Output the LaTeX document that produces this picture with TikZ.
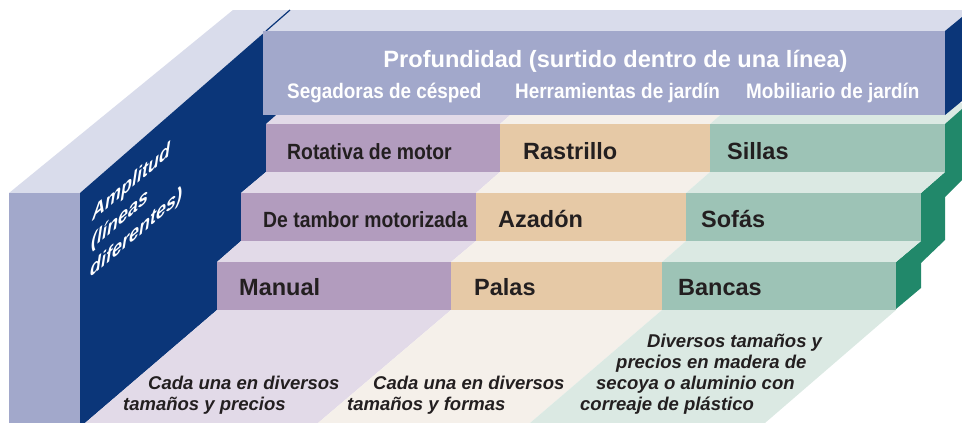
\documentclass[tikz,border=0pt]{standalone}
\usepackage{fontspec}
\setmainfont{Liberation Sans}
\newfontfamily\condA{Liberation Sans}[FakeStretch=0.9]
\newfontfamily\condB{Liberation Sans}[FakeStretch=0.88]
\definecolor{topface}{HTML}{D9DCEB}
\definecolor{frontblue}{HTML}{A2A8CB}
\definecolor{navy}{HTML}{0B3679}
\definecolor{purp}{HTML}{B29CBE}
\definecolor{lpurp}{HTML}{E2DAE8}
\definecolor{peach}{HTML}{E6C9A6}
\definecolor{lpeach}{HTML}{F5F0EA}
\definecolor{grn}{HTML}{9DC3B6}
\definecolor{lgrn}{HTML}{DBE9E3}
\definecolor{dgrn}{HTML}{21886A}
\definecolor{txt}{HTML}{231F20}
\tikzset{
  lbl/.style={anchor=base west, inner sep=0pt, text=txt, font=\bfseries\fontsize{23.5}{23.5}\selectfont},
  lblc/.style={anchor=base west, inner sep=0pt, text=txt, font=\condB\bfseries\fontsize{22}{22}\selectfont},
  sub/.style={anchor=base west, inner sep=0pt, text=white, font=\condA\bfseries\fontsize{21}{21}\selectfont},
  note/.style={anchor=base west, inner sep=0pt, text=txt, font=\bfseries\itshape\fontsize{18.5}{18.5}\selectfont},
  amp/.style={anchor=base west, inner sep=0pt, text=white, transform shape, font=\bfseries\itshape\fontsize{20}{20}\selectfont}
}
\begin{document}
\begin{tikzpicture}[x=1pt,y=-1pt]
\useasboundingbox (0,0) rectangle (962,423);
\clip (0,0) rectangle (962,423);
% top face
\fill[topface] (9,193) -- (233,10) -- (970,10) -- (970,31) -- (266,31) -- (80,193) -- cycle;
\draw[navy, line width=1.2pt] (266,31) -- (290,10);
% navy left side wall
\fill[navy] (80,193) -- (266,31) -- (280,31) -- (280,124) -- (266,124) -- (266,172) -- (241,193) -- (241,241) -- (217,262) -- (217,310) -- (85,423) -- (80,423) -- cycle;
% left pillar front
\fill[frontblue] (9,193) rectangle (80,430);
% row 1 treads
\fill[lpurp] (266,124) -- (500,124) -- (524,103) -- (290,103) -- cycle;
\fill[lpeach] (500,124) -- (710,124) -- (734,103) -- (524,103) -- cycle;
\fill[lgrn] (710,124) -- (945,124) -- (969,103) -- (734,103) -- cycle;
% header
\fill[frontblue] (263,31) rectangle (945,115);
\fill[navy] (945,31) -- (962,17) -- (962,101) -- (945,115) -- cycle;
% green right side
\fill[dgrn] (945,124) -- (962,109) -- (962,180) -- (945,197) -- (945,240) -- (921,263) -- (921,288) -- (896,309) -- (896,262) -- (921,241) -- (921,193) -- (945,172) -- cycle;
% row 1 fronts
\fill[purp] (266,124) rectangle (500,172);
\fill[peach] (500,124) rectangle (710,172);
\fill[grn] (710,124) rectangle (945,172);
% row 2 treads
\fill[lpurp] (241,193) -- (476,193) -- (500,172) -- (266,172) -- cycle;
\fill[lpeach] (476,193) -- (686,193) -- (710,172) -- (500,172) -- cycle;
\fill[lgrn] (686,193) -- (921,193) -- (945,172) -- (710,172) -- cycle;
% row 2 fronts
\fill[purp] (241,193) rectangle (476,241);
\fill[peach] (476,193) rectangle (686,241);
\fill[grn] (686,193) rectangle (921,241);
% row 3 treads
\fill[lpurp] (217,262) -- (451,262) -- (476,241) -- (241,241) -- cycle;
\fill[lpeach] (451,262) -- (662,262) -- (686,241) -- (476,241) -- cycle;
\fill[lgrn] (662,262) -- (896,262) -- (921,241) -- (686,241) -- cycle;
% row 3 fronts
\fill[purp] (217,262) rectangle (451,310);
\fill[peach] (451,262) rectangle (662,310);
\fill[grn] (662,262) rectangle (896,310);
% floor
\fill[lpurp] (217,310) -- (451,310) -- (318,423) -- (85,423) -- cycle;
\fill[lpeach] (451,310) -- (662,310) -- (530,423) -- (318,423) -- cycle;
\fill[lgrn] (662,310) -- (896,310) -- (765,423) -- (530,423) -- cycle;
% header texts
\node[anchor=base, inner sep=0pt, text=white, font=\bfseries\fontsize{23.6}{23.6}\selectfont] (title) at (615.5,67) {Profundidad (surtido dentro de una línea)};
\node[sub] (s1) at (287,98) {Segadoras de césped};
\node[sub] (s2) at (515,98) {Herramientas de jardín};
\node[sub] (s3) at (746,98) {Mobiliario de jardín};
% amplitude (slanted along the side wall)
\begin{scope}[shift={(92,222)}, yslant=0.85, xscale=0.9]
  \node[amp] (a1) at (0,0) {Amplitud};
\end{scope}
\begin{scope}[shift={(91,250)}, yslant=0.85, xscale=0.9]
  \node[amp] (a2) at (0,0) {(líneas};
\end{scope}
\begin{scope}[shift={(90,278)}, yslant=0.85, xscale=0.9]
  \node[amp] (a3) at (0,0) {diferentes)};
\end{scope}
% row labels
\node[lblc] (r1a) at (287,159) {Rotativa de motor};
\node[lbl] (r1b) at (523,159) {Rastrillo};
\node[lbl] (r1c) at (727,159) {Sillas};
\node[lblc] (r2a) at (263,227) {De tambor motorizada};
\node[lbl] (r2b) at (498,227) {Azadón};
\node[lbl] (r2c) at (701,227) {Sofás};
\node[lbl] (r3a) at (239,295) {Manual};
\node[lbl] (r3b) at (474,295) {Palas};
\node[lbl] (r3c) at (678,295) {Bancas};
% notes
\node[note] (n1a) at (148,389) {Cada una en diversos};
\node[note] (n1b) at (123,410) {tamaños y precios};
\node[note] (n2a) at (373,389) {Cada una en diversos};
\node[note] (n2b) at (347,410) {tamaños y formas};
\node[note] (n3a) at (647,347) {Diversos tamaños y};
\node[note] (n3b) at (616,368) {precios en madera de};
\node[note] (n3c) at (596,389) {secoya o aluminio con};
\node[note] (n3d) at (580,410) {correaje de plástico};
\end{tikzpicture}
\end{document}
